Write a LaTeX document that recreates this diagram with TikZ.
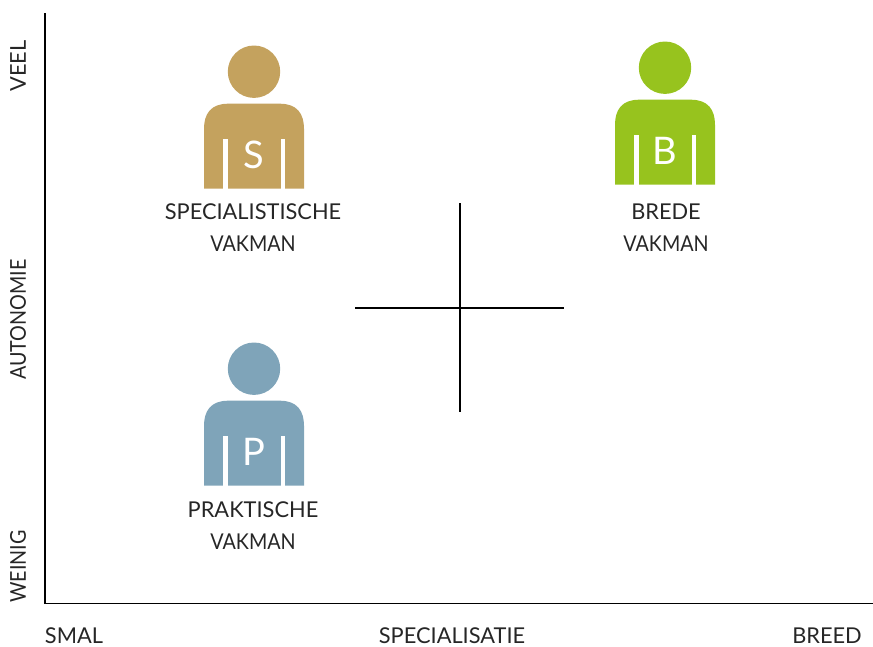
\documentclass[tikz,border=0pt]{standalone}
\usepackage{fontspec}
\setmainfont{Lato}
\newfontfamily\narrowlato[FakeStretch=0.905]{Lato}
\definecolor{spec}{HTML}{C4A25E}
\definecolor{brd}{HTML}{97C31E}
\definecolor{prak}{HTML}{7FA4B9}
\tikzset{
  lbl/.style={font=\fontsize{21.8pt}{24pt}\selectfont, text=black!85, inner sep=0pt, anchor=center},
  nlbl/.style={font=\narrowlato\fontsize{21.8pt}{24pt}\selectfont, text=black!85, inner sep=0pt, anchor=center},
  letter/.style={font=\fontsize{38pt}{40pt}\selectfont, text=white, inner sep=0pt},
  axisline/.style={line width=1.8pt, black},
  crossline/.style={line width=2pt, black}
}
\newcommand{\person}[4]{%
  % #1 cx, #2 head cy (px, y down) #3 colour #4 letter
  \begin{scope}[shift={(#1,-#2)}]
    \fill[#3] (0,0) circle (26.2);
    \fill[#3] (-50,-117) -- (-50,-57) .. controls (-50,-42) and (-43,-32) .. (-26,-32) -- (26,-32) .. controls (43,-32) and (50,-42) .. (50,-57) -- (50,-117) -- cycle;
    \fill[white] (-30.7,-117) rectangle (-26.3,-67.5);
    \fill[white] (26.7,-117) rectangle (31,-67.5);
    \node[letter] (l#4) at (0,-83.5) {#4};
  \end{scope}}
\begin{document}
\begin{tikzpicture}[x=1pt,y=1pt]
\useasboundingbox (0,0) rectangle (873,-646);
\coordinate (ytop) at (45,-13);
\coordinate (origin) at (45,-603.5);
\coordinate (xend) at (873,-603.5);
\draw[axisline] (ytop) -- (origin) -- (xend);
\coordinate (ct) at (459.5,-203);
\coordinate (cb) at (459.5,-412);
\coordinate (cl) at (355,-307.5);
\coordinate (cr) at (564,-307.5);
\draw[crossline] (ct) -- (cb);
\draw[crossline] (cl) -- (cr);
\person{254}{71.7}{spec}{S}
\person{665}{67.7}{brd}{B}
\person{254}{368.7}{prak}{P}
\node[lbl] (s1) at (253,-212) {SPECIALISTISCHE};
\node[nlbl] (s2) at (253,-244) {VAKMAN};
\node[lbl] (b1) at (666,-212) {BREDE};
\node[nlbl] (b2) at (666,-244) {VAKMAN};
\node[lbl] (p1) at (253,-510) {PRAKTISCHE};
\node[nlbl] (p2) at (253,-542) {VAKMAN};
\node[lbl,rotate=90] (veel) at (18,-66) {VEEL};
\node[nlbl,rotate=90] (auto) at (18,-319.5) {AUTONOMIE};
\node[nlbl,rotate=90] (wein) at (18,-566.5) {WEINIG};
\node[lbl] (smal) at (74,-636) {SMAL};
\node[lbl] (specx) at (452,-636) {SPECIALISATIE};
\node[lbl] (breed) at (827,-636) {BREED};
\end{tikzpicture}
\end{document}
